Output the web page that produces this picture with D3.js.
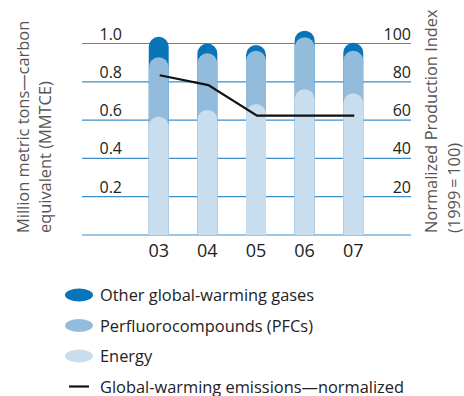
<!DOCTYPE html>
<html>
<head>
<meta charset="utf-8">
<script src="https://cdn.jsdelivr.net/npm/d3@7"></script>
<style>
  html, body { margin: 0; padding: 0; background: #fff; }
  svg { display: block; font-family: "Open Sans", sans-serif; }
</style>
</head>
<body>
<svg id="chart" width="464" height="396"></svg>
<script>
// Years shown on the x axis
const years = ["03", "04", "05", "06", "07"];
// Emissions by source, million metric tons carbon equivalent
const energy = [0.618, 0.653, 0.684, 0.761, 0.740];
const pfcs = [0.310, 0.296, 0.278, 0.271, 0.222];
const otherGases = [0.107, 0.051, 0.030, 0.035, 0.042];
// Normalized global-warming emissions index (1999 = 100)
const normalized = [83.4, 78.3, 62.3, 62.3, 62.3];
// Axis ticks
const leftTicks = [0.2, 0.4, 0.6, 0.8, 1.0];
const rightTicks = [20, 40, 60, 80, 100];

const series = [
  { name: "Other global-warming gases", color: "#0a74b8" },
  { name: "Perfluorocompounds (PFCs)", color: "#93bcdc" },
  { name: "Energy", color: "#c8dded" }
];

const svg = d3.select("#chart");
const plot = { left: 82, right: 411, top: 43.5, bottom: 235 };

const x = d3.scaleBand().domain(years).range([122, 390]).paddingInner(0.59).paddingOuter(0.55);
const y = d3.scaleLinear().domain([0, 1]).range([plot.bottom, plot.top]);
const y2 = d3.scaleLinear().domain([0, 100]).range([plot.bottom, plot.top]);

// Horizontal gridlines (including the baseline)
svg.append("g").selectAll("line").data([0].concat(leftTicks)).join("line")
  .attr("x1", plot.left).attr("x2", plot.right)
  .attr("y1", d => y(d)).attr("y2", d => y(d))
  .attr("stroke", "#3d8ec9").attr("stroke-width", 1.2);

// Left tick labels, drawn just above each gridline
svg.append("g").selectAll("text").data(leftTicks).join("text")
  .attr("x", 122).attr("y", d => y(d) - 4)
  .attr("text-anchor", "end").attr("font-size", 16).attr("fill", "#222")
  .text(d => d3.format(".1f")(d));

// Right tick labels
svg.append("g").selectAll("text").data(rightTicks).join("text")
  .attr("x", 411).attr("y", d => y2(d) - 4)
  .attr("text-anchor", "end").attr("font-size", 16).attr("fill", "#222")
  .text(d => d);

// Cumulative stacks: each layer is a rounded-top column from zero to its running total
const stacks = years.map((yr, i) => {
  const e = energy[i], p = e + pfcs[i], t = p + otherGases[i];
  return [
    { yr, top: t, color: series[0].color },
    { yr, top: p, color: series[1].color },
    { yr, top: e, color: series[2].color }
  ];
});

function roundTop(x0, w, yTop, yBase) {
  const r = w / 2;
  return `M${x0},${yBase}V${yTop + r}A${r},${r} 0 0 1 ${x0 + w},${yTop + r}V${yBase}Z`;
}

const bw = x.bandwidth();
svg.append("g").selectAll("g").data(stacks).join("g")
  .selectAll("path").data(d => d).join("path")
  .attr("d", d => roundTop(x(d.yr), bw, y(d.top), y(0)))
  .attr("fill", d => d.color);

// Year labels
svg.append("g").selectAll("text").data(years).join("text")
  .attr("x", d => x(d) + bw / 2).attr("y", 257)
  .attr("text-anchor", "middle").attr("font-size", 18).attr("fill", "#222")
  .text(d => d);

// Normalized emissions line on the right-hand scale
const line = d3.line().x((d, i) => x(years[i]) + bw / 2 + 1).y(d => y2(d));
svg.append("path").datum(normalized)
  .attr("d", line).attr("fill", "none")
  .attr("stroke", "#111").attr("stroke-width", 2.2);

// Axis titles
const leftTitle = svg.append("g").attr("transform", "translate(0,233) rotate(-90)")
  .attr("font-size", 16.4).attr("fill", "#555");
leftTitle.append("text").attr("x", 0).attr("y", 29).text("Million metric tons\u2014carbon");
leftTitle.append("text").attr("x", 0).attr("y", 51).text("equivalent (MMTCE)");

const rightTitle = svg.append("g").attr("transform", "translate(0,233) rotate(-90)")
  .attr("font-size", 16.4).attr("fill", "#555");
rightTitle.append("text").attr("x", 0).attr("y", 437).text("Normalized Production Index");
rightTitle.append("text").attr("x", 0).attr("y", 460).text("(1999\u2009=\u2009100)");

// Legend
const legendItems = series.map(s => ({ name: s.name, color: s.color, kind: "swatch" }))
  .concat([{ name: "Global-warming emissions\u2014normalized", kind: "line" }]);
const lg = svg.append("g").selectAll("g").data(legendItems).join("g")
  .attr("transform", (d, i) => `translate(0,${295 + i * 30.5})`);
lg.filter(d => d.kind === "swatch").append("ellipse")
  .attr("cx", 79).attr("cy", 0).attr("rx", 14).attr("ry", 6.5)
  .attr("fill", d => d.color);
lg.filter(d => d.kind === "line").append("line")
  .attr("x1", 69).attr("x2", 89).attr("y1", 0).attr("y2", 0)
  .attr("stroke", "#111").attr("stroke-width", 2.2);
lg.append("text").attr("x", 100).attr("y", 6)
  .attr("font-size", 16.4).attr("fill", "#222")
  .text(d => d.name);
</script>
</body>
</html>
